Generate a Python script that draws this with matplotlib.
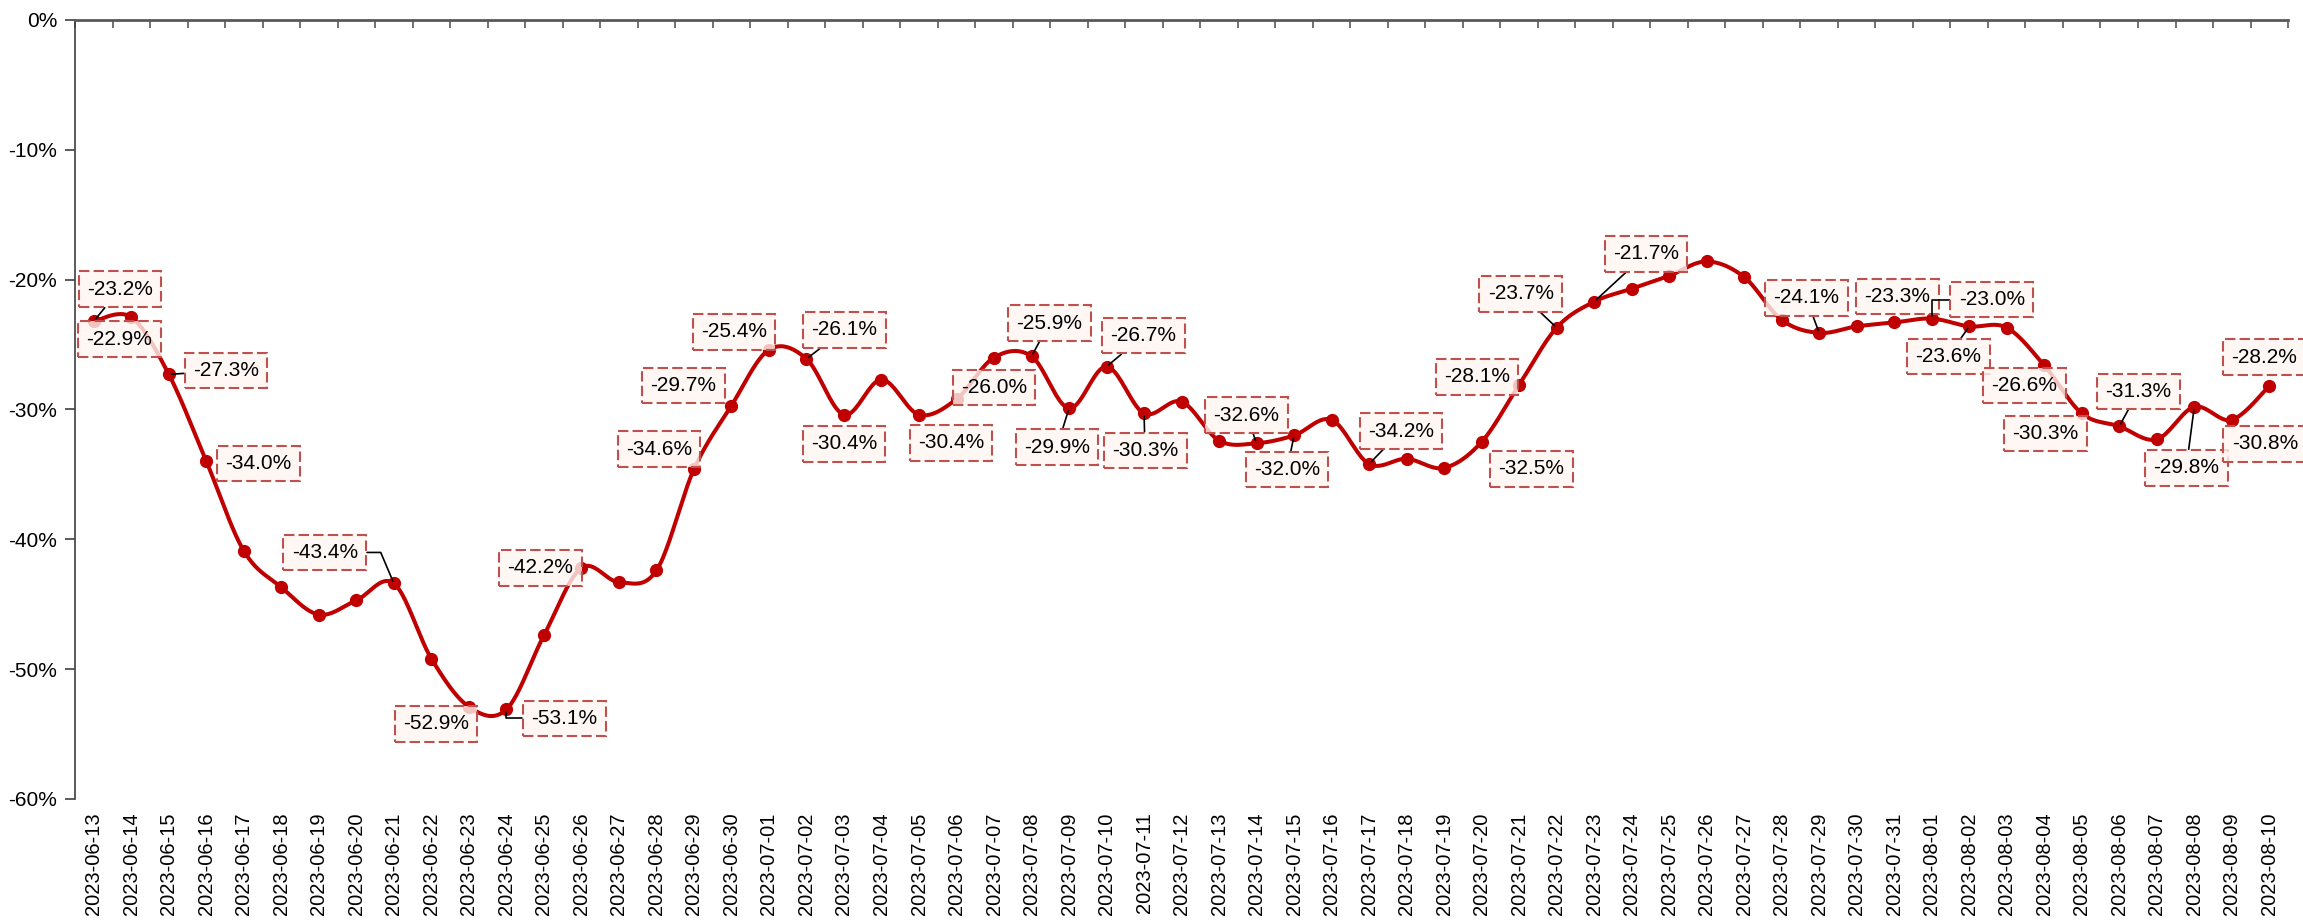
import numpy as np
import matplotlib
matplotlib.use("Agg")
import matplotlib.pyplot as plt

plt.rcParams['font.family'] = ['Liberation Sans', 'DejaVu Sans']

# ---- data ----
dates = (
    [f"2023-06-{d:02d}" for d in range(13, 31)]
    + [f"2023-07-{d:02d}" for d in range(1, 32)]
    + [f"2023-08-{d:02d}" for d in range(1, 11)]
)

values = [
    -23.2, -22.9, -27.3, -34.0, -40.9, -43.7, -45.8, -44.7, -43.4, -49.2,
    -52.9, -53.1, -47.4, -42.2, -43.3, -42.4, -34.6, -29.7,               # June
    -25.4, -26.1, -30.4, -27.7, -30.4, -29.2, -26.0, -25.9, -29.9, -26.7,
    -30.3, -29.4, -32.4, -32.6, -32.0, -30.8, -34.2, -33.8, -34.5, -32.5,
    -28.1, -23.7, -21.7, -20.7, -19.7, -18.6, -19.8, -23.1, -24.1, -23.6,
    -23.3,                                                                 # July
    -23.0, -23.6, -23.7, -26.6, -30.3, -31.3, -32.3, -29.8, -30.8, -28.2,  # August
]

y_ticks = [0, -10, -20, -30, -40, -50, -60]

# label placement (screen pixels: dx right, dy down) and leader style
label_offsets = {
    "2023-06-13": (26, -32), "2023-06-14": (-12, 22), "2023-06-15": (57, -4),
    "2023-06-16": (52, 2), "2023-06-21": (-69, -31), "2023-06-23": (-33, 17),
    "2023-06-24": (58, 9), "2023-06-26": (-41, 0), "2023-06-29": (-35, -20),
    "2023-06-30": (-48, -20), "2023-07-01": (-35, -18), "2023-07-02": (38, -29),
    "2023-07-03": (0, 29), "2023-07-05": (32, 28), "2023-07-07": (0, 30),
    "2023-07-08": (18, -33), "2023-07-09": (-12, 39), "2023-07-10": (37, -31),
    "2023-07-11": (1, 37), "2023-07-14": (-10, -28), "2023-07-15": (-7, 34),
    "2023-07-17": (32, -33), "2023-07-20": (50, 27), "2023-07-21": (-42, -8),
    "2023-07-22": (-36, -34), "2023-07-23": (52, -48), "2023-07-29": (-13, -35),
    "2023-07-31": (3, -26), "2023-08-01": (60, -19), "2023-08-02": (-21, 30),
    "2023-08-04": (-20, 20), "2023-08-05": (-36, 20), "2023-08-06": (19, -35),
    "2023-08-08": (-8, 61), "2023-08-09": (33, 24), "2023-08-10": (-5, -29),
}

leaders = {
    "2023-06-13": "arc3", "2023-06-15": "arc3",
    "2023-06-21": "angle,angleA=0,angleB=113,rad=0",
    "2023-06-24": "angle,angleA=0,angleB=90,rad=0",
    "2023-07-02": "arc3", "2023-07-08": "arc3", "2023-07-09": "arc3",
    "2023-07-10": "arc3", "2023-07-11": "arc3", "2023-07-14": "arc3",
    "2023-07-15": "arc3", "2023-07-17": "arc3", "2023-07-22": "arc3",
    "2023-07-23": "arc3", "2023-07-29": "arc3",
    "2023-08-01": "angle,angleA=0,angleB=90,rad=0",
    "2023-08-02": "arc3", "2023-08-06": "arc3", "2023-08-08": "arc3",
}

LINE_RED = "#C00000"
BOX_EDGE = "#C0504D"


def smooth_curve(x, y, steps=24):
    """Excel-like smoothed line: cubic Bezier through every point."""
    pts = np.column_stack([x, y]).astype(float)
    padded = np.vstack([pts[0], pts, pts[-1]])
    t = np.linspace(0, 1, steps)[:, None]
    out = []
    for i in range(len(pts) - 1):
        p0, p1, p2, p3 = padded[i], padded[i + 1], padded[i + 2], padded[i + 3]
        c1 = p1 + (p2 - p0) / 6
        c2 = p2 - (p3 - p1) / 6
        seg = ((1 - t) ** 3) * p1 + 3 * ((1 - t) ** 2) * t * c1 + 3 * (1 - t) * t ** 2 * c2 + t ** 3 * p2
        out.append(seg if i == 0 else seg[1:])
    out = np.vstack(out)
    return out[:, 0], out[:, 1]


def main():
    fig = plt.figure(figsize=(23.03, 9.21), dpi=100)
    ax = fig.add_axes([0.0326, 0.1325, 0.9609, 0.8458])

    x = np.arange(len(dates))
    sx, sy = smooth_curve(x, values)
    ax.plot(sx, sy, color=LINE_RED, lw=2.9, zorder=3)
    ax.plot(x, values, "o", color=LINE_RED, ms=8.5, zorder=4)

    for i, (d, v) in enumerate(zip(dates, values)):
        if d not in label_offsets:
            continue
        dx, dy = label_offsets[d]
        arrow = None
        if d in leaders:
            arrow = dict(arrowstyle="-", color="black", lw=1.2,
                         connectionstyle=leaders[d], shrinkA=0, shrinkB=2)
        ax.annotate(f"{v:.1f}%", xy=(i, v), xytext=(dx, -dy),
                    textcoords="offset pixels", ha="center", va="center",
                    fontsize=15, color="black", zorder=6,
                    bbox=dict(boxstyle="square,pad=0.4", fc=(1.0, 0.965, 0.95, 0.8),
                              ec=BOX_EDGE, ls=(0, (5, 2)), lw=1.5),
                    arrowprops=arrow)

    ax.set_xlim(-0.5, len(dates) - 0.5)
    ax.set_ylim(-60, 0)

    ax.set_yticks(y_ticks)
    ax.set_yticklabels([f"{t}%" for t in y_ticks])
    ax.tick_params(axis="y", direction="out", length=7, width=1.2, pad=6,
                   labelsize=15, color="#404040")

    # dates at the bottom, category ticks on the 0% line at the top
    ax.set_xticks(x)
    ax.set_xticklabels(dates, rotation=90, fontsize=14.5)
    ax.tick_params(axis="x", which="major", bottom=False, top=False, pad=6)
    ax.set_xticks(np.arange(len(dates) + 1) - 0.5, minor=True)
    ax.tick_params(axis="x", which="minor", bottom=False, top=True,
                   direction="in", length=6, width=1.2, color="#595959")

    ax.spines["bottom"].set_visible(False)
    ax.spines["right"].set_visible(False)
    ax.spines["top"].set_color("#595959")
    ax.spines["top"].set_linewidth(2)
    ax.spines["left"].set_color("#404040")
    ax.spines["left"].set_linewidth(1.2)

    fig.savefig("out.png", dpi=100)


if __name__ == "__main__":
    main()
